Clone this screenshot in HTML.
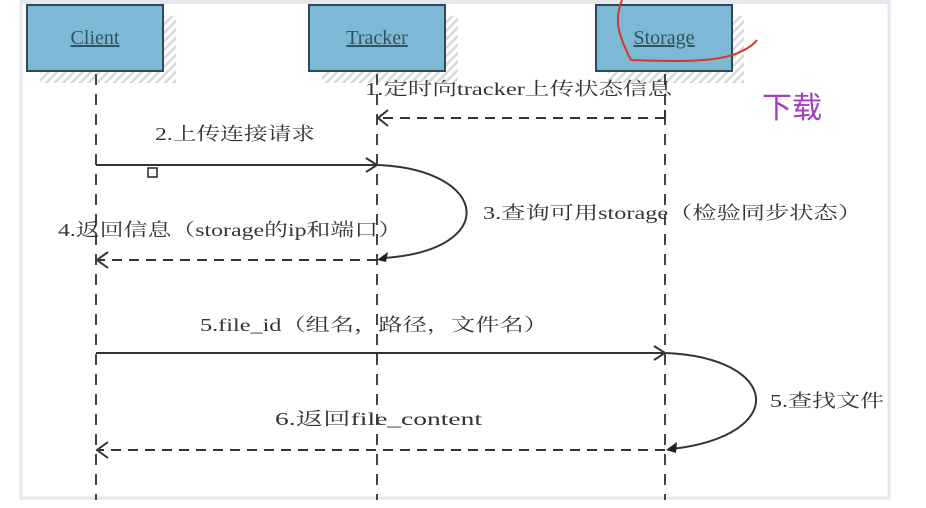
<!DOCTYPE html>
<html><head><meta charset="utf-8"><style>
html,body{margin:0;padding:0;background:#fff;}
body{width:926px;height:508px;position:relative;overflow:hidden;font-family:"Liberation Serif","Noto Serif CJK SC",serif;}
</style></head><body>
<svg width="926" height="508" viewBox="0 0 926 508" xmlns="http://www.w3.org/2000/svg" style="position:absolute;left:0;top:0">
<defs>
<pattern id="h" width="6" height="6" patternUnits="userSpaceOnUse" patternTransform="rotate(45)">
<rect width="6" height="6" fill="#fff"/><rect width="2.5" height="6" fill="#d8d8d8"/></pattern>
</defs>
<rect x="0" y="0" width="926" height="508" fill="#fff"/>
<rect x="21" y="0" width="868" height="498" fill="#fff" stroke="#e4e7ee" stroke-width="3"/>
<rect x="21" y="0" width="868" height="4" fill="#e4e7ee"/>
<rect x="40" y="16" width="136" height="67" fill="url(#h)"/>
<rect x="322" y="16" width="136" height="67" fill="url(#h)"/>
<rect x="608" y="16" width="136" height="67" fill="url(#h)"/>
<rect x="27" y="5" width="136" height="66" fill="#7db9d5" stroke="#2d4a57" stroke-width="2"/>
<rect x="309" y="5" width="136" height="66" fill="#7db9d5" stroke="#2d4a57" stroke-width="2"/>
<rect x="596" y="5" width="136" height="66" fill="#7db9d5" stroke="#2d4a57" stroke-width="2"/>
<g font-family="Liberation Serif,serif" font-size="20" fill="#34525e" text-anchor="middle" text-decoration="underline">
<text x="95" y="44">Client</text><text x="377" y="44">Tracker</text><text x="664" y="44">Storage</text></g>
<g stroke="#444" stroke-width="2" stroke-dasharray="11,9">
<line x1="96" y1="74" x2="96" y2="500"/><line x1="377" y1="74" x2="377" y2="500"/><line x1="665" y1="74" x2="665" y2="500"/></g>
<g stroke="#333" stroke-width="2" fill="none">
<line x1="665" y1="118" x2="380" y2="118" stroke-dasharray="10,7"/>
<line x1="665" y1="110" x2="665" y2="118"/>
<polyline points="388,110 378,118 388,126"/>
<line x1="96" y1="165" x2="375" y2="165"/>
<polyline points="366,158 377,165 366,172"/>
<path d="M378,165 C490,170 500,250 384,258"/>
<line x1="377" y1="260" x2="99" y2="260" stroke-dasharray="10,7"/>
<polyline points="108,252 97,260 108,268"/>
<line x1="96" y1="353" x2="663" y2="353"/>
<polyline points="654,346 665,353 654,360"/>
<path d="M666,353 C780,358 790,435 672,449"/>
<line x1="665" y1="450" x2="99" y2="450" stroke-dasharray="10,7"/>
<polyline points="108,442 97,450 108,458"/>
</g>
<polygon points="377,260 388,252 386,262" fill="#222"/>
<polygon points="666,450 677,442 676,453" fill="#222"/>
<rect x="148" y="168" width="9" height="9" fill="#fff" stroke="#222" stroke-width="1.5"/>
<g font-family="Liberation Serif,'Noto Serif CJK SC',serif" font-size="18" fill="#333" lengthAdjust="spacingAndGlyphs">
<text x="365" y="95" textLength="307" lengthAdjust="spacingAndGlyphs">1.定时向tracker上传状态信息</text>
<text x="155" y="140" textLength="160" lengthAdjust="spacingAndGlyphs">2.上传连接请求</text>
<text x="483" y="219" textLength="379" lengthAdjust="spacingAndGlyphs">3.查询可用storage（检验同步状态）</text>
<text x="58" y="236" textLength="344" lengthAdjust="spacingAndGlyphs">4.返回信息（storage的ip和端口）</text>
<text x="200" y="331" textLength="348" lengthAdjust="spacingAndGlyphs">5.file_id（组名，路径，文件名）</text>
<text x="770" y="407" textLength="114" lengthAdjust="spacingAndGlyphs">5.查找文件</text>
<text x="275" y="425" textLength="207" lengthAdjust="spacingAndGlyphs">6.返回file_content</text>
</g>
<text x="762" y="118" font-family="'Noto Sans CJK SC',sans-serif" font-size="30" fill="#a040c0">下载</text>
<path d="M622,0 C614,20 618,35 631,60 C680,62 720,62 740,52 C752,47 757,40 757,40" stroke="#d9362a" stroke-width="2" fill="none"/>
</svg>
</body></html>
